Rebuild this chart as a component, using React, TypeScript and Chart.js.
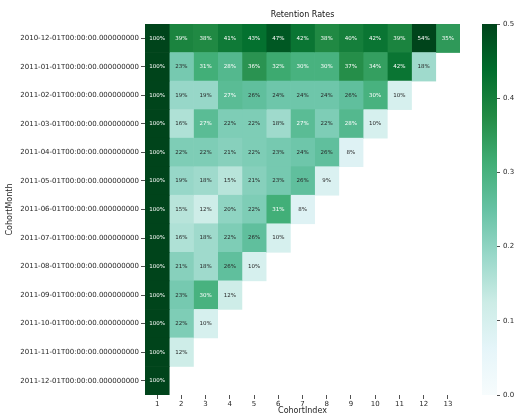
import React, { useEffect, useRef } from "react";
import { Chart, registerables } from "chart.js";

Chart.register(...registerables);

const chartTitle = "Retention Rates";
const xTitle = "CohortIndex";
const yTitle = "CohortMonth";

const cohortMonths = [
  "2010-12-01T00:00:00.000000000",
  "2011-01-01T00:00:00.000000000",
  "2011-02-01T00:00:00.000000000",
  "2011-03-01T00:00:00.000000000",
  "2011-04-01T00:00:00.000000000",
  "2011-05-01T00:00:00.000000000",
  "2011-06-01T00:00:00.000000000",
  "2011-07-01T00:00:00.000000000",
  "2011-08-01T00:00:00.000000000",
  "2011-09-01T00:00:00.000000000",
  "2011-10-01T00:00:00.000000000",
  "2011-11-01T00:00:00.000000000",
  "2011-12-01T00:00:00.000000000",
];

const cohortIndex = ["1", "2", "3", "4", "5", "6", "7", "8", "9", "10", "11", "12", "13"];

// retention (%) per cohort month
const ret201012 = [100, 39, 38, 41, 43, 47, 42, 38, 40, 42, 39, 54, 35];
const ret201101 = [100, 23, 31, 28, 36, 32, 30, 30, 37, 34, 42, 18];
const ret201102 = [100, 19, 19, 27, 26, 24, 24, 24, 26, 30, 10];
const ret201103 = [100, 16, 27, 22, 22, 18, 27, 22, 28, 10];
const ret201104 = [100, 22, 22, 21, 22, 23, 24, 26, 8];
const ret201105 = [100, 19, 18, 15, 21, 23, 26, 9];
const ret201106 = [100, 15, 12, 20, 22, 31, 8];
const ret201107 = [100, 16, 18, 22, 26, 10];
const ret201108 = [100, 21, 18, 26, 10];
const ret201109 = [100, 23, 30, 12];
const ret201110 = [100, 22, 10];
const ret201111 = [100, 12];
const ret201112 = [100];

const retentionRows = [
  ret201012, ret201101, ret201102, ret201103, ret201104, ret201105, ret201106,
  ret201107, ret201108, ret201109, ret201110, ret201111, ret201112,
];

const colorbarTicks = [0, 0.1, 0.2, 0.3, 0.4, 0.5];
const VMIN = 0;
const VMAX = 0.5;

// matplotlib BuGn
const BUGN = [
  [247, 252, 253],
  [229, 245, 249],
  [204, 236, 230],
  [153, 216, 201],
  [102, 194, 164],
  [65, 174, 118],
  [35, 139, 69],
  [0, 109, 44],
  [0, 68, 27],
];

function cmapRGB(v: number): number[] {
  let t = (v - VMIN) / (VMAX - VMIN);
  t = Math.max(0, Math.min(1, t));
  const p = t * (BUGN.length - 1);
  const i = Math.min(BUGN.length - 2, Math.floor(p));
  const f = p - i;
  const a = BUGN[i];
  const b = BUGN[i + 1];
  return [0, 1, 2].map((k) => Math.round(a[k] + (b[k] - a[k]) * f));
}
function cmap(v: number): string {
  const [r, g, b] = cmapRGB(v);
  return `rgb(${r},${g},${b})`;
}
function textColor(v: number): string {
  const [r, g, b] = cmapRGB(v);
  const lin = (c: number) => {
    c /= 255;
    return c <= 0.03928 ? c / 12.92 : Math.pow((c + 0.055) / 1.055, 2.4);
  };
  const lum = 0.2126 * lin(r) + 0.7152 * lin(g) + 0.0722 * lin(b);
  return lum > 0.408 ? "#262626" : "#ffffff";
}

const FONT = "'DejaVu Sans', sans-serif";
const AXIS_COLOR = "#262626";

const annotPlugin = {
  id: "annot",
  afterDatasetsDraw(chart: any) {
    const ctx = chart.ctx;
    ctx.save();
    ctx.font = `5.5px ${FONT}`;
    ctx.textAlign = "center";
    ctx.textBaseline = "middle";
    chart.data.datasets.forEach((_: any, j: number) => {
      const meta = chart.getDatasetMeta(j);
      meta.data.forEach((el: any, i: number) => {
        const v = retentionRows[i][j];
        if (v === undefined) return;
        const p = el.getCenterPoint();
        ctx.fillStyle = textColor(v / 100);
        ctx.fillText(`${Math.round(v)}%`, p.x, p.y);
      });
    });
    ctx.restore();
  },
};

export default function App() {
  const mainRef = useRef<HTMLCanvasElement>(null);
  const cbRef = useRef<HTMLCanvasElement>(null);

  useEffect(() => {
    Chart.defaults.font.family = FONT;
    const datasets = cohortIndex.map((_, j) => ({
      label: cohortIndex[j],
      data: retentionRows.map((row) => (row[j] === undefined ? null : [j + 0.5, j + 1.5])),
      backgroundColor: (c: any) => {
        const v = retentionRows[c.dataIndex] ? retentionRows[c.dataIndex][j] : undefined;
        return v === undefined ? "rgba(0,0,0,0)" : cmap(v / 100);
      },
      borderWidth: 0,
      barPercentage: 1,
      categoryPercentage: 1,
      grouped: false,
    }));

    const main = new Chart(mainRef.current as HTMLCanvasElement, {
      type: "bar",
      data: { labels: cohortMonths, datasets: datasets as any },
      plugins: [annotPlugin],
      options: {
        responsive: false,
        animation: false,
        indexAxis: "y",
        layout: { padding: 0 },
        plugins: { legend: { display: false }, tooltip: { enabled: false } },
        scales: {
          x: {
            type: "linear",
            position: "bottom",
            min: 0.5,
            max: 13.5,
            afterBuildTicks: (s: any) => {
              s.ticks = cohortIndex.map((_, k) => ({ value: k + 1 }));
            },
            ticks: {
              callback: (v: any) => cohortIndex[Math.round(v) - 1],
              font: { size: 7 },
              color: AXIS_COLOR,
              padding: 1,
              maxRotation: 0,
              autoSkip: false,
            },
            grid: { drawOnChartArea: false, tickLength: 4, color: AXIS_COLOR, lineWidth: 0.8 },
            border: { display: false },
            title: { display: true, text: xTitle, font: { size: 8 }, color: AXIS_COLOR, padding: { top: 0, bottom: 0 } },
            afterFit: (s: any) => {
              s.height = 21;
            },
          },
          xTop: {
            type: "linear",
            position: "top",
            min: 0.5,
            max: 13.5,
            ticks: { display: false },
            grid: { display: false },
            border: { display: false },
            title: { display: true, text: chartTitle, font: { size: 8 }, color: "#111", padding: { top: 10, bottom: 0 } },
            afterFit: (s: any) => {
              s.height = 24;
            },
          },
          y: {
            type: "category",
            labels: cohortMonths,
            offset: true,
            ticks: { font: { size: 7 }, color: AXIS_COLOR, padding: 2, autoSkip: false },
            grid: { offset: false, drawOnChartArea: false, tickLength: 4, color: AXIS_COLOR, lineWidth: 0.8 },
            border: { display: false },
            title: { display: true, text: yTitle, font: { size: 8 }, color: AXIS_COLOR, padding: { top: 5, bottom: 0 } },
            afterFit: (s: any) => {
              s.width = 145;
            },
          },
        } as any,
      },
    });

    const cb = new Chart(cbRef.current as HTMLCanvasElement, {
      type: "bar",
      data: {
        labels: [""],
        datasets: [
          {
            data: [[VMIN, VMAX]] as any,
            backgroundColor: (c: any) => {
              const area = c.chart.chartArea;
              if (!area) return "rgba(0,0,0,0)";
              const g = c.chart.ctx.createLinearGradient(0, area.bottom, 0, area.top);
              BUGN.forEach((col, k) => {
                g.addColorStop(k / (BUGN.length - 1), `rgb(${col[0]},${col[1]},${col[2]})`);
              });
              return g;
            },
            borderWidth: 0,
            barPercentage: 1,
            categoryPercentage: 1,
          },
        ],
      },
      options: {
        responsive: false,
        animation: false,
        layout: { padding: { left: 12, top: 24, bottom: 21, right: 0 } },
        plugins: { legend: { display: false }, tooltip: { enabled: false } },
        scales: {
          x: { display: false },
          y: {
            position: "right",
            min: VMIN,
            max: VMAX,
            afterBuildTicks: (s: any) => {
              s.ticks = colorbarTicks.map((v) => ({ value: v }));
            },
            ticks: {
              callback: (v: any) => Number(v).toFixed(1),
              font: { size: 7 },
              color: AXIS_COLOR,
              padding: 3,
            },
            grid: { drawOnChartArea: false, tickLength: 3, color: AXIS_COLOR, lineWidth: 0.8 },
            border: { display: false },
            afterFit: (s: any) => {
              s.width = 21;
            },
          },
        } as any,
      },
    });

    return () => {
      main.destroy();
      cb.destroy();
    };
  }, []);

  return (
    <div style={{ position: "fixed", left: 0, top: 0, width: 518, height: 416, background: "#fff" }}>
      <canvas ref={mainRef} width={460} height={416} style={{ position: "absolute", left: 0, top: 0 }} />
      <canvas ref={cbRef} width={48} height={416} style={{ position: "absolute", left: 470, top: 0 }} />
    </div>
  );
}
